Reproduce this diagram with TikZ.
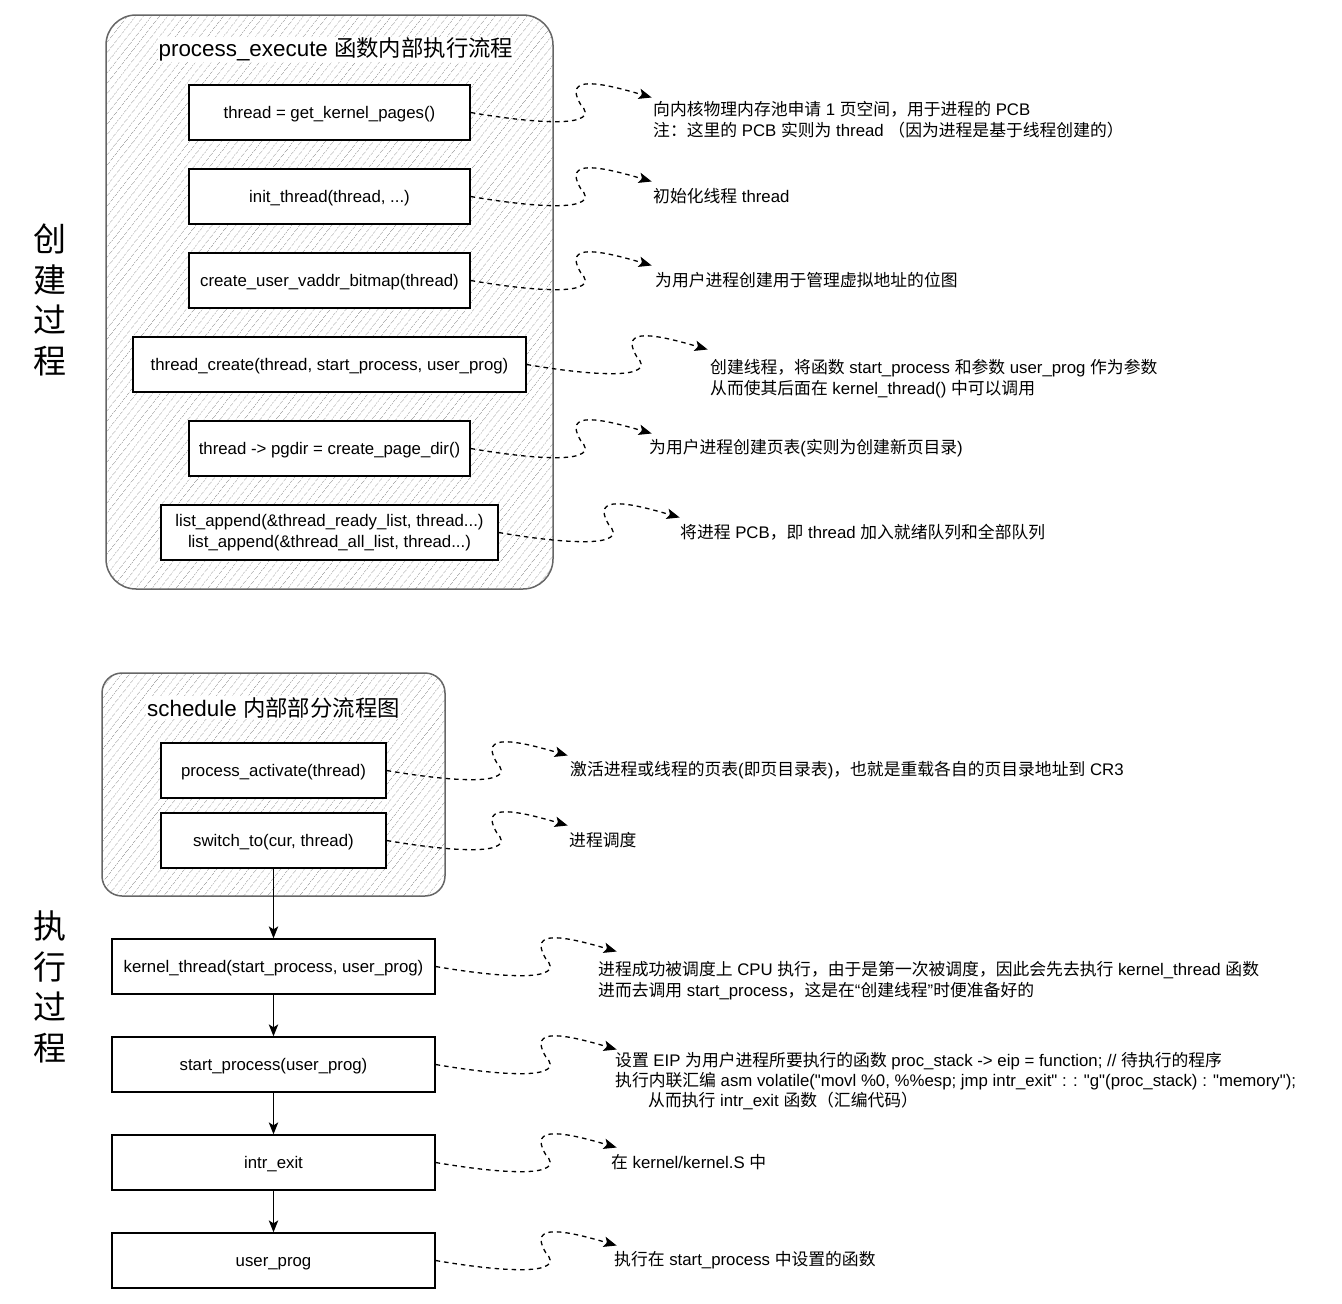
\documentclass[tikz,border=0pt]{standalone}
\usepackage{fontspec}
\setmainfont{Liberation Sans}[Ligatures=TeXOff]
\newfontfamily\cjk{Noto Sans CJK SC}
\newcommand\zh[1]{{\cjk #1}}
\newcommand\dstrut{\rule[-0.212em]{0pt}{1.117em}}
\usetikzlibrary{calc,arrows.meta,patterns.meta}
\newcommand\annarrow[2]{%
  \coordinate (#2) at ($(#1.east)+(181,-15)$);
  \draw[dashline] (#1.east) .. controls ($(#1.east)+(70,12)$) and ($(#1.east)+(132,15)$) .. ($(#1.east)+(110,-8)$)
     .. controls ($(#1.east)+(92,-38)$) and ($(#1.east)+(130,-30)$) .. (#2);}
\begin{document}
\begin{tikzpicture}[x=1pt,y=-1pt,
  box/.style={draw=black, line width=1.3pt, fill=white, minimum height=55pt, inner sep=0pt,
    font=\fontsize{16.8}{21}\selectfont, align=center,
    execute at begin node=\dstrut, execute at end node=\dstrut},
  ann/.style={anchor=west, inner sep=0pt, align=left, font=\fontsize{16.8}{21}\selectfont},
  container/.style={draw=black!60, line width=1.5pt,
    pattern={Lines[angle=52,distance=6.5pt,line width=0.7pt]}, pattern color=black!32},
  ctitle/.style={fill=white, inner sep=1pt, font=\fontsize{22.4}{27}\selectfont},
  side/.style={align=center, inner sep=0pt, font=\fontsize{33}{40.5}\selectfont\cjk},
  dashline/.style={line width=1.3pt, dash pattern=on 4.5pt off 4pt, -{Stealth[length=13pt,width=10.5pt,inset=3pt]}},
  varrow/.style={line width=1.3pt, -{Stealth[length=12pt,width=9.5pt,inset=3pt]}}]
\fill[white] (0,0) rectangle (1342,1304);
\useasboundingbox (0,0) rectangle (1342,1304);

% side labels
\node[side] (s1) at (50,300) {创\\建\\过\\程};
\node[side] (s2) at (50,987) {执\\行\\过\\程};

% top container
\draw[container, rounded corners=30pt] (106,15) rectangle (553,589);
\node[ctitle] (t1) at (336,49.5) {process\_execute \zh{函数内部执行流程}};

\node[box, minimum width=281pt] (b1) at (329.5,112.5) {thread = get\_kernel\_pages()};
\node[box, minimum width=281pt] (b2) at (329.5,196.5) {init\_thread(thread, ...)};
\node[box, minimum width=281pt] (b3) at (329.5,280.5) {create\_user\_vaddr\_bitmap(thread)};
\node[box, minimum width=393pt] (b4) at (329.5,364.5) {thread\_create(thread, start\_process, user\_prog)};
\node[box, minimum width=281pt] (b5) at (329.5,448.5) {thread -> pgdir = create\_page\_dir()};
\node[box, minimum width=337pt] (b6) at (329.5,532.5) {list\_append(\&thread\_ready\_list, thread...)\\list\_append(\&thread\_all\_list, thread...)};

\node[ann] (a1) at (653,119.5) {\zh{向内核物理内存池申请} 1 \zh{页空间，用于进程的} PCB\\\zh{注：这里的} PCB \zh{实则为} thread \zh{（因为进程是基于线程创建的）}};
\node[ann] (a2) at (653,196) {\zh{初始化线程} thread};
\node[ann] (a3) at (655,280) {\zh{为用户进程创建用于管理虚拟地址的位图}};
\node[ann] (a4) at (710,378.5) {\zh{创建线程，将函数} start\_process \zh{和参数} user\_prog \zh{作为参数}\\\zh{从而使其后面在} kernel\_thread() \zh{中可以调用}};
\node[ann] (a5) at (649,448) {\zh{为用户进程创建页表}(\zh{实则为创建新页目录})};
\node[ann] (a6) at (680,532) {\zh{将进程} PCB\zh{，即} thread \zh{加入就绪队列和全部队列}};

\annarrow{b1}{e1}
\annarrow{b2}{e2}
\annarrow{b3}{e3}
\annarrow{b4}{e4}
\annarrow{b5}{e5}
\annarrow{b6}{e6}

% bottom container
\draw[container, rounded corners=20pt] (102,673) rectangle (445,896);
\node[ctitle] (t2) at (273.5,707.5) {schedule \zh{内部部分流程图}};

\node[box, minimum width=225pt] (c1) at (273.5,770.5) {process\_activate(thread)};
\node[box, minimum width=225pt] (c2) at (273.5,840.5) {switch\_to(cur, thread)};
\node[box, minimum width=323pt] (c3) at (273.5,966.5) {kernel\_thread(start\_process, user\_prog)};
\node[box, minimum width=323pt] (c4) at (273.5,1064.5) {start\_process(user\_prog)};
\node[box, minimum width=323pt] (c5) at (273.5,1162.5) {intr\_exit};
\node[box, minimum width=323pt] (c6) at (273.5,1260.5) {user\_prog};

\draw[varrow] (c2.south) -- (c3.north);
\draw[varrow] (c3.south) -- (c4.north);
\draw[varrow] (c4.south) -- (c5.north);
\draw[varrow] (c5.south) -- (c6.north);

\node[ann] (d1) at (570,770) {\zh{激活进程或线程的页表}(\zh{即页目录表})\zh{，也就是重载各自的页目录地址到} CR3};
\node[ann] (d2) at (569,840) {\zh{进程调度}};
\node[ann] (d3) at (598,980.5) {\zh{进程成功被调度上} CPU \zh{执行，由于是第一次被调度，因此会先去执行} kernel\_thread \zh{函数}\\\zh{进而去调用} start\_process\zh{，这是在}“\zh{创建线程}”\zh{时便准备好的}};
\node[ann, font=\fontsize{16.8}{20}\selectfont] (d4) at (615,1081) {\zh{设置} EIP \zh{为用户进程所要执行的函数} proc\_stack -> eip = function; // \zh{待执行的程序}\\\zh{执行内联汇编} asm volatile("movl \%0, \%\%esp; jmp intr\_exit" : : "g"(proc\_stack) : "memory");\\\hspace*{33pt}\zh{从而执行} intr\_exit \zh{函数（汇编代码）}};
\node[ann] (d5) at (611,1162) {\zh{在} kernel/kernel.S \zh{中}};
\node[ann] (d6) at (614,1260) {\zh{执行在} start\_process \zh{中设置的函数}};

\annarrow{c1}{f1}
\annarrow{c2}{f2}
\annarrow{c3}{f3}
\annarrow{c4}{f4}
\annarrow{c5}{f5}
\annarrow{c6}{f6}
\end{tikzpicture}
\end{document}
